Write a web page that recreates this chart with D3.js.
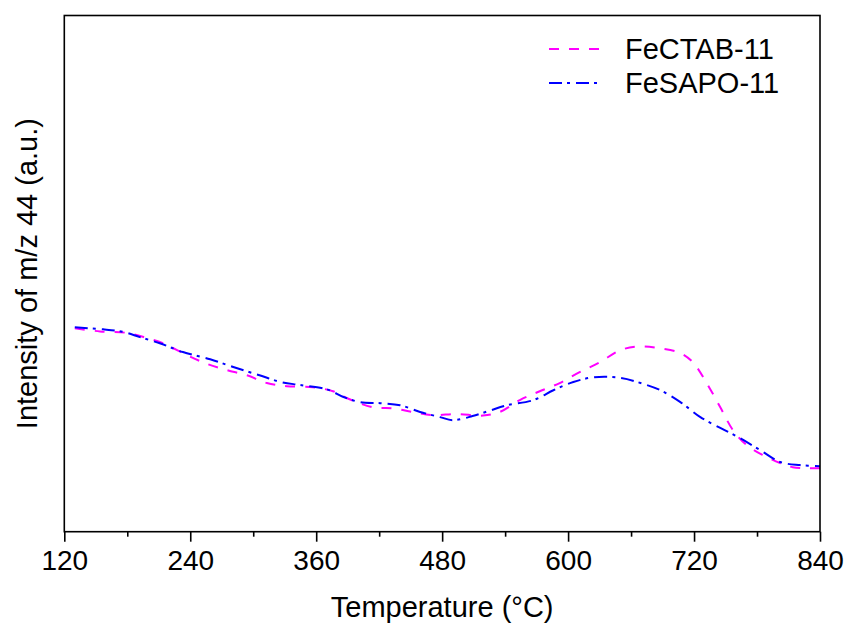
<!DOCTYPE html>
<html><head><meta charset="utf-8">
<script src="https://cdn.jsdelivr.net/npm/d3@7"></script>
<style>body{margin:0;background:#fff;} text{font-family:"Liberation Sans",Arial,sans-serif;fill:#000;}</style>
</head><body><svg id="c" width="845" height="630"></svg>
<script>
const xTicks = [120, 240, 360, 480, 600, 720, 840];
const xMinorTicks = [180, 300, 420, 540, 660, 780];
const seriesNames = ["FeCTAB-11", "FeSAPO-11"];
const seriesColors = ["#ff00ff", "#0000ff"];
const fectabT = [130,154,180,199,214,237,256,275,294,313,332,357,376,389,414,433,452,471,494,519,535,554,573,592,611,630,650,669,688,707,719,732,745,757,770,786,802,814,828,840];
const fectabV = [39.4,38.8,38.5,37.5,36.5,34.2,32.5,31.3,30.3,28.8,28.2,28.0,27.2,25.9,24.1,23.9,23.2,22.6,22.8,22.5,23.2,25.5,27.2,28.8,30.9,32.8,35.2,35.9,35.5,34.6,32.8,28.8,24.1,19.7,16.8,14.8,13.3,12.5,12.3,12.3];
const fesapoT = [130,157,176,192,211,233,259,281,306,326,345,370,386,402,421,440,459,478,490,509,526,542,567,586,605,624,650,669,688,707,726,745,764,783,802,821,840];
const fesapoV = [39.6,39.2,38.7,37.7,36.5,34.8,33.4,31.9,30.3,29.0,28.4,27.6,26.1,25.1,24.9,24.5,23.2,22.2,21.6,22.4,23.5,24.5,25.5,27.4,29.0,29.9,29.8,28.8,27.4,25.1,22.2,20.1,18.1,15.8,13.5,12.9,12.7];

const L = 64.3, R = 820, T = 15.5, B = 531.7;
const svg = d3.select("#c");
const x = d3.scaleLinear().domain([120, 840]).range([L, R]);
const y = d3.scaleLinear().domain([0, 100]).range([B, T]);

const series = [
  {name: seriesNames[0], color: seriesColors[0], dash: "10,10", pts: fectabT.map((t,i)=>[t, fectabV[i]])},
  {name: seriesNames[1], color: seriesColors[1], dash: "13,5,3,6", pts: fesapoT.map((t,i)=>[t, fesapoV[i]])}
];

const line = d3.line().x(d=>x(d[0])).y(d=>y(d[1])).curve(d3.curveCatmullRom.alpha(0.5));
series.forEach(s => {
  svg.append("path").attr("d", line(s.pts)).attr("fill","none")
    .attr("stroke", s.color).attr("stroke-width", 2).attr("stroke-dasharray", s.dash);
});

// frame
svg.append("rect").attr("x", L).attr("y", T).attr("width", R-L).attr("height", B-T)
  .attr("fill","none").attr("stroke","#000").attr("stroke-width",1.6);

// x axis
const xAxis = d3.axisBottom(x).tickValues(xTicks).tickSize(10).tickPadding(8).tickFormat(d3.format("d"));
const gx = svg.append("g").attr("transform", `translate(0,${B})`).call(xAxis);
gx.select(".domain").remove();
gx.selectAll(".tick line").attr("stroke","#000").attr("stroke-width",1.6);
gx.selectAll(".tick text").attr("font-size", 28).attr("font-family","Liberation Sans, Arial, sans-serif").attr("fill","#000");
const xAxisMinor = d3.axisBottom(x).tickValues(xMinorTicks).tickSize(5).tickFormat("");
const gxm = svg.append("g").attr("transform", `translate(0,${B})`).call(xAxisMinor);
gxm.select(".domain").remove();
gxm.selectAll(".tick line").attr("stroke","#000").attr("stroke-width",1.6);

// axis titles
svg.append("text").attr("x", (L+R)/2).attr("y", 617).attr("text-anchor","middle")
  .attr("font-size", 29).text("Temperature (\u00B0C)");
svg.append("text").attr("transform", `translate(37,${(T+B)/2}) rotate(-90)`).attr("text-anchor","middle")
  .attr("font-size", 29).text("Intensity of m/z 44 (a.u.)");

// legend
series.forEach((s, i) => {
  const ly = 49 + i*34;
  svg.append("line").attr("x1", 549).attr("x2", 603).attr("y1", ly).attr("y2", ly)
    .attr("stroke", s.color).attr("stroke-width", 2).attr("stroke-dasharray", s.dash);
  svg.append("text").attr("x", 625).attr("y", ly + 10).attr("font-size", 29).text(s.name);
});
</script></body></html>
